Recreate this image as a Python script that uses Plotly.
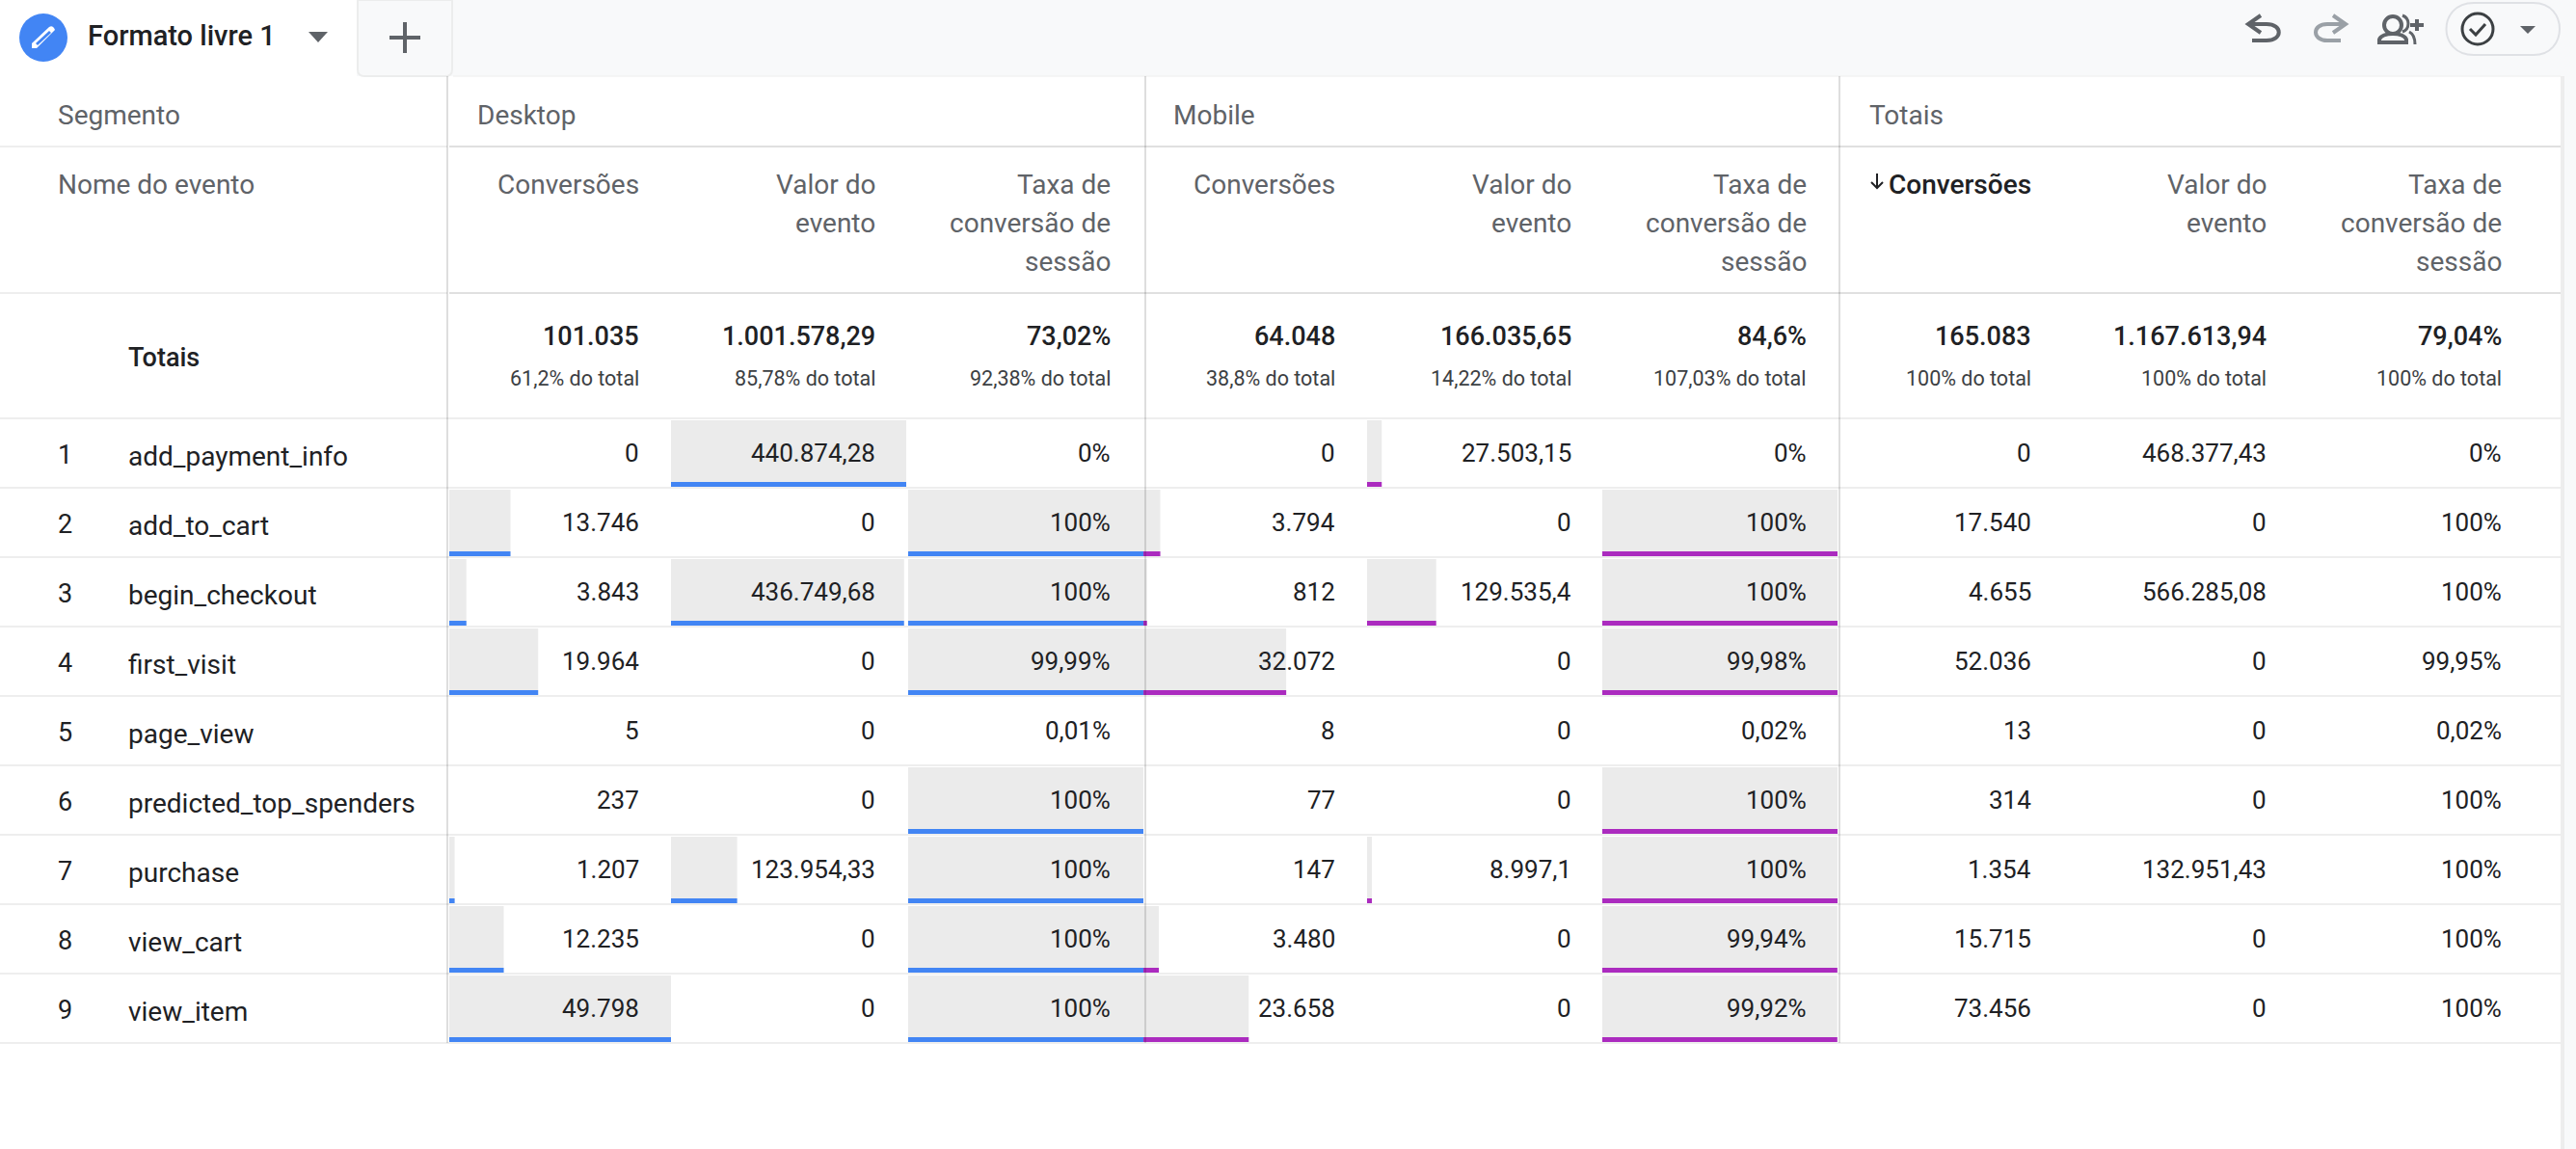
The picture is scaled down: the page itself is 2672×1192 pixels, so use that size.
import plotly.graph_objects as go

W = 2672
H = 1192

events = ["add_payment_info", "add_to_cart", "begin_checkout", "first_visit", "page_view",
          "predicted_top_spenders", "purchase", "view_cart", "view_item"]

desktop_conv = [0, 13746, 3843, 19964, 5, 237, 1207, 12235, 49798]
desktop_value = [440874.28, 0, 436749.68, 0, 0, 0, 123954.33, 0, 0]
desktop_rate = [0, 100, 100, 99.99, 0.01, 100, 100, 100, 100]

mobile_conv = [0, 3794, 812, 32072, 8, 77, 147, 3480, 23658]
mobile_value = [27503.15, 0, 129535.4, 0, 0, 0, 8997.1, 0, 0]
mobile_rate = [0, 100, 100, 99.98, 0.02, 100, 100, 99.94, 99.92]

total_conv = [0, 17540, 4655, 52036, 13, 314, 1354, 15715, 73456]
total_value = [468377.43, 0, 566285.08, 0, 0, 0, 132951.43, 0, 0]
total_rate = [0, 100, 100, 99.95, 0.02, 100, 100, 100, 100]

totals_main = ["101.035", "1.001.578,29", "73,02%", "64.048", "166.035,65", "84,6%",
               "165.083", "1.167.613,94", "79,04%"]
totals_sub = ["61,2% do total", "85,78% do total", "92,38% do total",
              "38,8% do total", "14,22% do total", "107,03% do total",
              "100% do total", "100% do total", "100% do total"]

segments = ["Desktop", "Mobile", "Totais"]
metric_headers = [["Conversões"], ["Valor do", "evento"], ["Taxa de", "conversão de", "sessão"]]

BLUE = "#4285f4"
PURPLE = "#ab2bbf"
BAR_GRAY = "#ebebeb"
BODY = "#202124"
HEAD = "#5f6368"
SUB = "#3c4043"
BAND = "#f8f9fa"
ROW_LINE = "#eeeeee"
HEAD_LINE = "#e0e0e0"
FONT = "Roboto"

# right edge of the text in each of the nine metric columns
text_right = [664, 909, 1153, 1386, 1631, 1875, 2108, 2352, 2596]
segment_left = [494, 1216, 1938]
divider_x = [464, 1188, 1908]

ROW_TOP = 434
ROW_H = 72
MIN_SHARE = 0.006  # the report draws no bar for very small shares


def fmt(v):
    s = f"{v:,.2f}"
    if "." in s:
        s = s.rstrip("0").rstrip(".")
    return s.replace(",", "#").replace(".", ",").replace("#", ".")


notes = []


def label(x, y, text, size=24, color=BODY, anchor="right", weight=400):
    notes.append(dict(x=x, y=y, xref="x7", yref="y2", text=text, showarrow=False,
                      xanchor=anchor, yanchor="middle", borderpad=0,
                      font=dict(family=FONT, size=size, color=color, weight=weight)))


def rect(x0, y0, x1, y1, fill):
    return dict(type="rect", x0=x0, y0=y0, x1=x1, y1=y1, fillcolor=fill, line_width=0,
                xref="x7", yref="y2", layer="above")


def seg(x0, y0, x1, y1, color, width=2):
    return dict(type="line", x0=x0, y0=y0, x1=x1, y1=y1, line=dict(color=color, width=width),
                xref="x7", yref="y2", layer="above")


def path(d, fill="rgba(0,0,0,0)", color="rgba(0,0,0,0)", width=0):
    return dict(type="path", path=d, fillcolor=fill, line=dict(color=color, width=width),
                xref="x7", yref="y2", layer="above")


fig = go.Figure()

# (x start, x end, values, axis max, colour)
bar_columns = [
    (466, 696, desktop_conv, max(desktop_conv), BLUE),
    (696, 940, desktop_value, max(desktop_value), BLUE),
    (942, 1186, desktop_rate, 100, BLUE),
    (1186, 1416, mobile_conv, max(desktop_conv), PURPLE),
    (1418, 1662, mobile_value, max(desktop_value), PURPLE),
    (1662, 1906, mobile_rate, 100, PURPLE),
]

for n, (x0, x1, values, top, color) in enumerate(bar_columns, start=1):
    axis = "x" if n == 1 else f"x{n}"
    shown = [v if v / top >= MIN_SHARE else 0 for v in values]
    fig.add_trace(go.Bar(x=shown, y=events, orientation="h", xaxis=axis, yaxis="y",
                         width=69 / ROW_H, offset=-34 / ROW_H, marker=dict(color=BAR_GRAY, line_width=0),
                         hoverinfo="skip", showlegend=False))
    fig.add_trace(go.Bar(x=shown, y=events, orientation="h", xaxis=axis, yaxis="y",
                         width=5 / ROW_H, offset=30 / ROW_H, marker=dict(color=color, line_width=0),
                         hoverinfo="skip", showlegend=False))
    fig.update_layout(**{f"xaxis{n}": dict(domain=[x0 / W, x1 / W], range=[0, top], visible=False,
                                           anchor="y", fixedrange=True)})

# pixel canvas for the page furniture and the texts
fig.add_trace(go.Scatter(x=[0], y=[0], xaxis="x7", yaxis="y2", mode="markers", opacity=0,
                         hoverinfo="skip", showlegend=False))

shapes = [
    rect(370, 0, 2660, 79, BAND),
    rect(2660, 0, 2672, H, BAND),
    rect(2656, 79, 2660, H, "#ededed"),
    seg(470, 79, 2656, 79, ROW_LINE, 1),
    path("M 371 0 L 371 72 Q 371 79 378 79 L 462 79 Q 469 79 469 72 L 469 0 Z", BAND, "#eceded", 2),
    # row and header rules
    seg(0, 152, 464, 152, ROW_LINE, 2),
    seg(466, 152, 2656, 152, HEAD_LINE, 2),
    seg(0, 304, 464, 304, ROW_LINE, 2),
    seg(466, 304, 2656, 304, HEAD_LINE, 2),
]
for i in range(len(events) + 1):
    shapes.append(seg(0, ROW_TOP + i * ROW_H, 2656, ROW_TOP + i * ROW_H, ROW_LINE, 2))
for x in divider_x:
    shapes.append(seg(x, 79, x, ROW_TOP + len(events) * ROW_H, "rgba(0,0,0,0.13)", 2))

# tab icons
shapes += [
    dict(type="circle", x0=20, y0=14, x1=70, y1=64, fillcolor=BLUE, line_width=0,
         xref="x7", yref="y2", layer="above"),
    path("M 33 50 L 33 45 L 51 28 Q 54 26 56 29 L 57 31 L 38 50 Z", "white"),
    path("M 37 45 L 51 32 L 53 34 L 39 47 Z", BLUE),
    path("M 320 33 L 340 33 L 330 44 Z", HEAD),
    seg(404, 39, 436, 39, HEAD, 4),
    seg(420, 23, 420, 55, HEAD, 4),
    # undo, redo, add people, status pill
    path("M 2345 16 L 2332 25 L 2345 34 M 2332 25 L 2351 25 C 2368 25 2368 42 2351 42 L 2336 42",
         color=HEAD, width=4),
    path("M 2420 16 L 2433 25 L 2420 34 M 2433 25 L 2414 25 C 2398 25 2398 42 2414 42 L 2428 42",
         color="#9aa0a6", width=4),
    dict(type="circle", x0=2473, y0=17, x1=2491, y1=35, line=dict(color=HEAD, width=4),
         xref="x7", yref="y2", layer="above"),
    path("M 2468 44 L 2468 41 C 2470 33 2494 33 2496 41 L 2496 44 Z", color=HEAD, width=4),
    path("M 2492 16 C 2500 19 2500 30 2492 33 M 2499 33 C 2503 35 2505 39 2505 46", color=HEAD, width=3),
    seg(2500, 26, 2514, 26, HEAD, 4),
    seg(2507, 20, 2507, 32, HEAD, 4),
    path("M 2566 3 L 2628 3 C 2664 3 2664 57 2628 57 L 2566 57 C 2528 57 2528 3 2566 3 Z",
         color="#dfe1e5", width=2),
    dict(type="circle", x0=2554, y0=14, x1=2586, y1=46, line=dict(color=SUB, width=3),
         xref="x7", yref="y2", layer="above"),
    path("M 2562 30 L 2568 36 L 2578 25", color=SUB, width=3),
    path("M 2614 27 L 2630 27 L 2622 35 Z", HEAD),
    # sort arrow of the Totais / Conversões header
    path("M 1947 180 L 1947 195 M 1941 189 L 1947 195 L 1953 189", color=BODY, width=2),
]

# page and table headers
label(90, 37, "Formato livre 1", size=29, anchor="left", weight=500)
label(59, 119, "Segmento", size=28, color=HEAD, anchor="left")
label(59, 191, "Nome do evento", size=28, color=HEAD, anchor="left")
for x, name in zip(segment_left, segments):
    label(x, 119, name, size=28, color=HEAD, anchor="left")
for c, right in enumerate(text_right):
    lines = metric_headers[c % 3]
    for k, line in enumerate(lines):
        if c == 6:
            label(right, 191 + 40 * k, line, size=28, weight=500)
        else:
            label(right, 191 + 40 * k, line, size=28, color=HEAD)

# totals row
label(132, 371, "Totais", size=27, anchor="left", weight=500)
for right, main, sub in zip(text_right, totals_main, totals_sub):
    label(right, 349, main, size=27, weight=500)
    label(right, 392, sub, size=21.5, color=SUB)

# event rows
columns = [desktop_conv, desktop_value, desktop_rate, mobile_conv, mobile_value, mobile_rate,
           total_conv, total_value, total_rate]
for i, name in enumerate(events):
    y = ROW_TOP + i * ROW_H
    label(59, y + 38, str(i + 1), size=27, anchor="left")
    label(132, y + 39, name, size=28, anchor="left")
    for c, values in enumerate(columns):
        suffix = "%" if c % 3 == 2 else ""
        label(text_right[c], y + 36, fmt(values[i]) + suffix, size=26)

fig.update_layout(
    width=W, height=H, margin=dict(l=0, r=0, t=0, b=0),
    paper_bgcolor="white", plot_bgcolor="rgba(0,0,0,0)",
    barmode="overlay", hovermode=False, showlegend=False,
    yaxis=dict(domain=[1 - (ROW_TOP + len(events) * ROW_H) / H, 1 - ROW_TOP / H], type="category",
               categoryorder="array", categoryarray=events, range=[len(events) - 0.5, -0.5],
               visible=False, fixedrange=True),
    xaxis7=dict(domain=[0, 1], range=[0, W], visible=False, anchor="y2", fixedrange=True),
    yaxis2=dict(domain=[0, 1], range=[H, 0], visible=False, anchor="x7", fixedrange=True),
    shapes=shapes, annotations=notes,
)

fig.write_html("out.html", config=dict(displayModeBar=False),
               post_script="document.body.style.margin='0';")
